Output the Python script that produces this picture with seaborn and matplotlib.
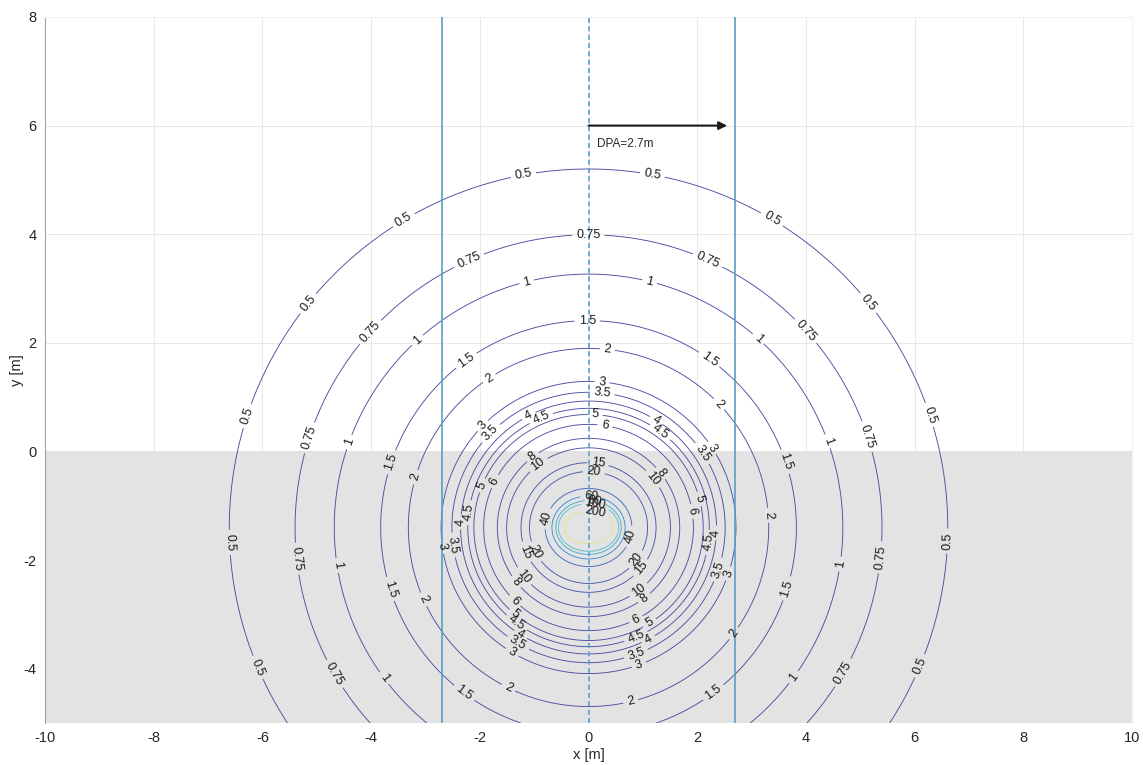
import numpy as np
import matplotlib
matplotlib.use("Agg")
import matplotlib.pyplot as plt
import matplotlib.colors as mcolors
import seaborn as sns

# %%
# field model: source centre and strength (value * r^2)
source_x = 0.0
source_y = -1.4
source_strength = 21.8
source_half_len = 0.3   # horizontal extent of the source (inner contours are oval)

levels = [0.5, 0.75, 1, 1.5, 2, 3, 3.5, 4, 4.5, 5, 6, 8, 10, 15, 20, 40, 60, 80, 100, 200]

dpa = 2.7
arrow_start = 0.0
arrow_end = 2.55
arrow_y = 6.0
ground_top = 0.0

x_ticks = [-10, -8, -6, -4, -2, 0, 2, 4, 6, 8, 10]
y_ticks = [-4, -2, 0, 2, 4, 6, 8]

# %%
xg = np.linspace(-10, 10, 801)
yg = np.linspace(-5, 8, 521)
X, Y = np.meshgrid(xg, yg)
dy = np.sqrt((Y - source_y) ** 2 + 1e-4)
a = source_half_len
F = source_strength / (2 * a * dy) * (
    np.arctan((X - source_x + a) / dy) - np.arctan((X - source_x - a) / dy)
)

# %%
sns.set_theme(style="whitegrid")
plt.rcParams["font.family"] = ["Liberation Sans", "DejaVu Sans"]

# muted parula-like map
parula = mcolors.LinearSegmentedColormap.from_list(
    "parula_soft",
    [(0.0, "#4d4c9f"), (0.12, "#4a5cb0"), (0.2, "#3f74cf"), (0.3, "#3ea5d8"),
     (0.45, "#5fc8c0"), (0.6, "#a8d49a"), (0.8, "#e4e28c"), (1.0, "#f5f07a")],
)

fig = plt.figure(figsize=(11.43, 7.65), dpi=100)
ax = fig.add_axes([0.0394, 0.0549, 0.9510, 0.9229])
ax.set_xlim(-10, 10)
ax.set_ylim(-5, 8)

ax.set_axisbelow(True)
ax.grid(True, color="#e8e8e8", linewidth=0.7)
ax.axhspan(-5, ground_top, color="#e3e3e3", zorder=0.6, linewidth=0)

cs = ax.contour(X, Y, F, levels=levels, cmap=parula,
                norm=mcolors.Normalize(vmin=0, vmax=240),
                linewidths=0.65, zorder=2)

# label positions every ~120 px along each contour line
fig.canvas.draw()
spacing = 120
positions = []
for segs in cs.allsegs:
    for seg in segs:
        if len(seg) < 3:
            continue
        disp = ax.transData.transform(seg)
        d = np.r_[0, np.cumsum(np.hypot(*np.diff(disp, axis=0).T))]
        total = d[-1]
        n = max(1, int(total // spacing))
        step = total / n
        for k in range(n):
            target = step * (k + 0.5)
            idx = np.searchsorted(d, target)
            idx = min(idx, len(seg) - 1)
            positions.append(tuple(seg[idx]))

ax.clabel(cs, manual=positions, inline=True, inline_spacing=4,
          fontsize=9, colors="#1a1a1a", fmt="%g")

ax.axvline(-dpa, color="#5e9cc4", linewidth=1.2, zorder=3)
ax.axvline(dpa, color="#5e9cc4", linewidth=1.2, zorder=3)
ax.axvline(0, color="#5aa0cc", linewidth=1.2, linestyle=(0, (3, 2)), zorder=3)

ax.annotate("", xy=(arrow_end, arrow_y), xytext=(arrow_start, arrow_y),
            arrowprops=dict(arrowstyle="-|>", color="k", lw=1.5,
                            mutation_scale=12, shrinkA=0, shrinkB=0),
            zorder=4)
ax.text(0.15, 5.6, f"DPA={dpa}m", fontsize=8.5, color="#262626",
        ha="left", va="baseline")

ax.set_xticks(x_ticks)
ax.set_yticks(y_ticks)
ax.set_xticklabels([str(t) for t in x_ticks])
ax.set_yticklabels([str(t) for t in y_ticks])
ax.tick_params(axis="both", labelsize=10.5, labelcolor="#262626",
               direction="in", length=4, color="#999999", pad=6)
ax.set_xlabel("x [m]", fontsize=10.5, color="#262626")
ax.set_ylabel("y [m]", fontsize=10.5, color="#262626")
ax.xaxis.set_label_coords(0.5, -0.035)
ax.yaxis.set_label_coords(-0.019, 0.5)

for side in ["top", "right"]:
    ax.spines[side].set_color("#f2f2f2")
    ax.spines[side].set_linewidth(0.8)
ax.spines["left"].set_color("#a0a0a0")
ax.spines["left"].set_linewidth(0.8)
ax.spines["bottom"].set_visible(False)

fig.savefig("out.png", dpi=100, facecolor="white")
